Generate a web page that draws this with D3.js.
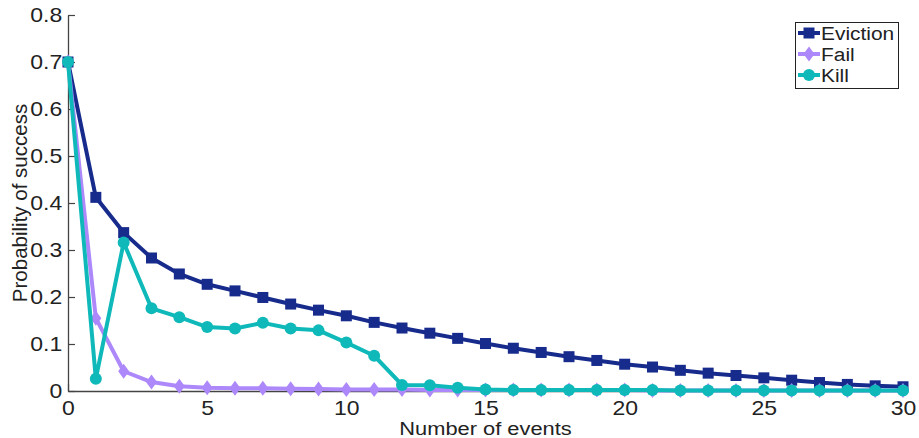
<!DOCTYPE html>
<html>
<head>
<meta charset="utf-8">
<script src="https://cdn.jsdelivr.net/npm/d3@7"></script>
<style>
  body { margin: 0; background: #fff; }
  text { font-family: "Liberation Sans", Arial, sans-serif; fill: #222; }
</style>
</head>
<body>
<svg id="chart" width="919" height="438"></svg>
<script>
// number of events 0..30
var events = d3.range(0, 31);

var eviction = [0.70, 0.412, 0.337, 0.283, 0.249, 0.227, 0.213, 0.199, 0.185, 0.172, 0.160,
  0.146, 0.134, 0.123, 0.112, 0.101, 0.091, 0.082, 0.073, 0.065, 0.057, 0.051, 0.044,
  0.038, 0.033, 0.028, 0.023, 0.018, 0.014, 0.011, 0.009];
var fail = [0.70, 0.155, 0.042, 0.019, 0.010, 0.007, 0.006, 0.006, 0.005, 0.004, 0.003,
  0.003, 0.003, 0.002, 0.002, 0.002, 0.002, 0.002, 0.002, 0.002, 0.002, 0.001, 0.001,
  0.001, 0.001, 0.001, 0.001, 0.001, 0.001, 0.001, 0.001];
var kill = [0.70, 0.026, 0.316, 0.176, 0.157, 0.136, 0.133, 0.145, 0.133, 0.129, 0.103,
  0.075, 0.013, 0.012, 0.007, 0.003, 0.002, 0.002, 0.002, 0.002, 0.002, 0.002, 0.001,
  0.001, 0.001, 0.001, 0.001, 0.001, 0.001, 0.001, 0.001];

var seriesNames = ["Eviction", "Fail", "Kill"];
var seriesColors = ["#172b8c", "#ad88fb", "#0fb9b9"];
var seriesMarkers = ["square", "diamond", "circle"];
var xTicks = [0, 5, 10, 15, 20, 25, 30];
var yTicks = [0, 0.1, 0.2, 0.3, 0.4, 0.5, 0.6, 0.7, 0.8];

var svg = d3.select('#chart');
var x = d3.scaleLinear().domain([0, 30]).range([68, 903]);
var y = d3.scaleLinear().domain([0, 0.8]).range([391, 15]);

var axisColor = "#444";
var stretch = 'scale(1.15,1)'; // text in the original is a bit wide

// axes (ticks point inward, matlab style)
var xAxis = svg.append('g').attr('transform', 'translate(0,' + y(0) + ')')
  .call(d3.axisBottom(x).tickValues(xTicks).tickFormat(d3.format('d')).tickSizeInner(-7).tickSizeOuter(0));
var yAxis = svg.append('g').attr('transform', 'translate(' + x(0) + ',0)')
  .call(d3.axisLeft(y).tickValues(yTicks).tickFormat(function(d){ return d === 0 ? "0" : d3.format('.1f')(d); }).tickSizeInner(-7).tickSizeOuter(0).tickPadding(5));

[xAxis, yAxis].forEach(function(a){
  a.select('.domain').attr('stroke', axisColor).attr('stroke-width', 1.3);
  a.selectAll('.tick line').attr('stroke', axisColor).attr('stroke-width', 1.2);
  a.selectAll('.tick text').style('font-size', '20px').style('fill', '#222').attr('transform', stretch);
});
xAxis.selectAll('.tick text').attr('y', 24).attr('dy', 0);

svg.append('text').attr('transform', 'translate(' + ((x(0) + x(30)) / 2) + ',435) ' + stretch)
  .attr('text-anchor', 'middle').style('font-size', '19px').text('Number of events');
svg.append('text').attr('transform', 'translate(27,' + ((y(0) + y(0.8)) / 2) + ') rotate(-90)')
  .attr('text-anchor', 'middle').style('font-size', '20.5px').text('Probability of success');

var allSeries = [eviction, fail, kill];

function drawMarker(g, kind, cx, cy, color) {
  if (kind === "square") {
    g.append('rect').attr('x', cx - 5.5).attr('y', cy - 5.5).attr('width', 11).attr('height', 11).attr('fill', color);
  } else if (kind === "diamond") {
    g.append('path').attr('d', 'M' + cx + ',' + (cy - 7.5) + 'L' + (cx + 5.5) + ',' + cy + 'L' + cx + ',' + (cy + 7.5) + 'L' + (cx - 5.5) + ',' + cy + 'Z').attr('fill', color);
  } else {
    g.append('circle').attr('cx', cx).attr('cy', cy).attr('r', 6).attr('fill', color);
  }
}

var line = d3.line().x(function(d, i){ return x(events[i]); }).y(function(d){ return y(d); });

allSeries.forEach(function(vals, s){
  var g = svg.append('g');
  g.append('path').datum(vals).attr('d', line).attr('fill', 'none')
    .attr('stroke', seriesColors[s]).attr('stroke-width', 4).attr('stroke-linejoin', 'round');
  vals.forEach(function(v, i){ drawMarker(g, seriesMarkers[s], x(events[i]), y(v), seriesColors[s]); });
});

// legend
var leg = svg.append('g');
leg.append('rect').attr('x', 795.5).attr('y', 22.5).attr('width', 103).attr('height', 66)
  .attr('fill', '#fff').attr('stroke', '#222').attr('stroke-width', 1);
seriesNames.forEach(function(name, s){
  var ly = 33 + s * 21;
  leg.append('line').attr('x1', 798).attr('x2', 820).attr('y1', ly).attr('y2', ly)
    .attr('stroke', seriesColors[s]).attr('stroke-width', 4);
  drawMarker(leg, seriesMarkers[s], 809, ly, seriesColors[s]);
  leg.append('text').attr('transform', 'translate(821,' + (ly + 7) + ') scale(1.1,1)')
    .style('font-size', '19px').text(name);
});
</script>
</body>
</html>
